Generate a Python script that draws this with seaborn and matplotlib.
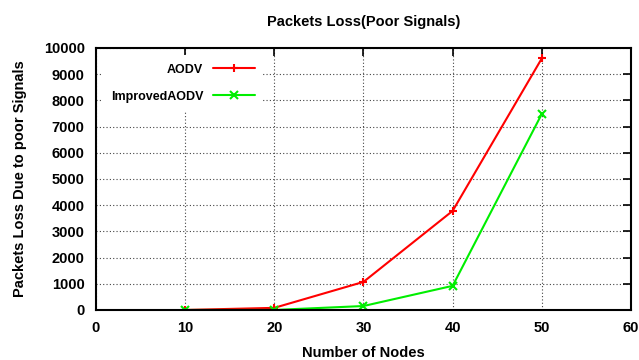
import matplotlib
matplotlib.use("Agg")
import matplotlib.pyplot as plt
import seaborn as sns
import pandas as pd

nodes = [10, 20, 30, 40, 50]
aodv = [0, 80, 1070, 3780, 9600]
improved_aodv = [0, 0, 150, 920, 7480]
series_names = ["AODV", "ImprovedAODV"]

df = pd.DataFrame({
    "nodes": nodes * 2,
    "loss": aodv + improved_aodv,
    "protocol": [series_names[0]] * len(nodes) + [series_names[1]] * len(nodes),
})

sns.set_style("white")
plt.rcParams["font.family"] = ["Liberation Sans", "DejaVu Sans"]
plt.rcParams["font.weight"] = "bold"
plt.rcParams["text.color"] = "black"
plt.rcParams["axes.labelcolor"] = "black"
plt.rcParams["xtick.color"] = "black"
plt.rcParams["ytick.color"] = "black"

colors = {"AODV": "#ff0000", "ImprovedAODV": "#00ee00"}

fig = plt.figure(figsize=(6.39, 3.6), dpi=100)
ax = fig.add_axes([0.150, 0.139, 0.8375, 0.728])

sns.lineplot(
    data=df, x="nodes", y="loss", hue="protocol", style="protocol",
    palette=colors,
    markers={"AODV": "+", "ImprovedAODV": "x"},
    dashes=False, linewidth=1.5, markersize=6, markeredgewidth=1.5,
    ax=ax, legend=False,
)
# solid marker edges in the series colour
for line in ax.get_lines():
    line.set_markeredgecolor(line.get_color())

ax.set_xlim(0, 60)
ax.set_ylim(0, 10000)
ax.set_xticks(range(0, 61, 10))
ax.set_yticks(range(0, 10001, 1000))
ax.grid(True, color="#444444", linestyle=(0, (1, 2)), linewidth=0.8)
ax.tick_params(direction="in", length=6, width=1.2, top=True, right=True,
               labelsize=10.5, pad=8)
for lbl in ax.get_xticklabels() + ax.get_yticklabels():
    lbl.set_fontweight("bold")
for sp in ax.spines.values():
    sp.set_linewidth(1.5)
    sp.set_color("black")

ax.set_xlabel("Number of Nodes", fontsize=10.5, fontweight="bold", labelpad=8)
ax.set_ylabel("Packets Loss Due to poor Signals", fontsize=10.5, fontweight="bold")
ax.yaxis.set_label_coords(-0.128, 0.5)
ax.set_title("Packets Loss(Poor Signals)", fontsize=10.5, fontweight="bold", pad=16)

handles = [
    plt.Line2D([], [], color=colors[n], marker=m, markersize=6,
               markeredgewidth=1.5, linewidth=1.5)
    for n, m in zip(series_names, ["+", "x"])
]
leg = ax.legend(handles, series_names, loc="upper left", frameon=True, markerfirst=False,
                handlelength=3.3, bbox_to_anchor=(0.0, 0.997), borderpad=0.7,
                labelspacing=1.2, prop={"weight": "bold", "size": 9},
                facecolor="white", edgecolor="none", framealpha=1.0, fancybox=False)

fig.savefig("out.png", dpi=100, facecolor="white")
